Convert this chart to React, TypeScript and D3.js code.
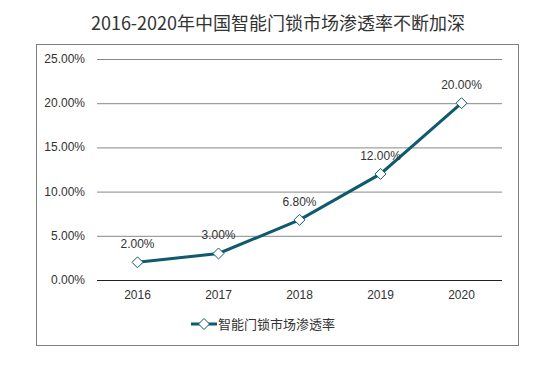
import React from "react";
import * as d3 from "d3";

const years = ["2016", "2017", "2018", "2019", "2020"];
const rates = [2.0, 3.0, 6.8, 12.0, 20.0];
const yTicks = [0, 5, 10, 15, 20, 25];
const title = "2016-2020年中国智能门锁市场渗透率不断加深";
const seriesName = "智能门锁市场渗透率";

const W = 556, H = 367;
const plotL = 97, plotR = 502, plotT = 59, plotB = 280;
const lineColor = "#0f5a6d";

export default function App() {
  const x = d3.scaleBand<string>().domain(years).range([plotL, plotR]);
  const y = d3.scaleLinear().domain([0, 25]).range([plotB, plotT]);
  const cx = (d: string) => (x(d) as number) + x.bandwidth() / 2;
  const line = d3.line<number>().x((_, i) => cx(years[i])).y((v) => y(v));
  const diamond = (px: number, py: number) => {
    const r = 5.5;
    return `M${px},${py - r}L${px + r},${py}L${px},${py + r}L${px - r},${py}Z`;
  };
  const font = "Liberation Sans, Arial, sans-serif";
  return (
    <svg width={W} height={H} style={{ position: "absolute", left: 0, top: 0 }}>
      <rect x={0} y={0} width={W} height={H} fill="#fff" />
      <text x={278} y={30} textAnchor="middle" fontSize={18} fill="#333" fontFamily="Noto Sans CJK SC, sans-serif">{title}</text>
      <rect x={36.5} y={44.5} width={482} height={301} fill="none" stroke="#808080" strokeWidth={1} />
      {yTicks.map((t) => (
        <g key={t}>
          <line x1={plotL} x2={plotR} y1={y(t) + 0.5} y2={y(t) + 0.5} stroke={t === 0 ? "#222" : "#888"} strokeWidth={1} />
          <text x={85} y={y(t) + 4} textAnchor="end" fontSize={12} fill="#333" fontFamily={font}>{t.toFixed(2) + "%"}</text>
        </g>
      ))}
      {years.map((yr) => (
        <text key={yr} x={cx(yr)} y={299} textAnchor="middle" fontSize={12} fill="#333" fontFamily={font}>{yr}</text>
      ))}
      <path d={line(rates) as string} fill="none" stroke={lineColor} strokeWidth={3} />
      {rates.map((v, i) => (
        <g key={i}>
          <path d={diamond(cx(years[i]), y(v))} fill="#fff" stroke={lineColor} strokeWidth={1} />
          <text x={cx(years[i])} y={y(v) - 14} textAnchor="middle" fontSize={12} fill="#333" fontFamily={font}>{v.toFixed(2) + "%"}</text>
        </g>
      ))}
      <g>
        <line x1={191} x2={217} y1={324} y2={324} stroke={lineColor} strokeWidth={3} />
        <path d={diamond(204, 324)} fill="#fff" stroke={lineColor} strokeWidth={1} />
        <text x={218} y={329} fontSize={13} fill="#333" fontFamily="Noto Sans CJK SC, sans-serif">{seriesName}</text>
      </g>
    </svg>
  );
}
